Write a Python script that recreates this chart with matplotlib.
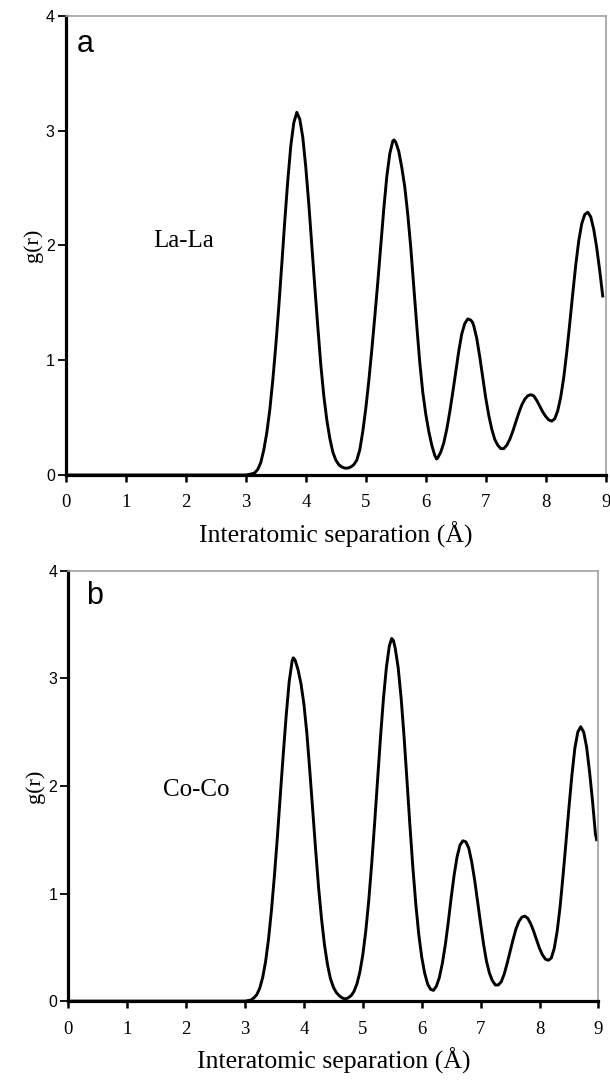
import matplotlib
matplotlib.use("Agg")
import matplotlib.pyplot as plt

# La-La pair distribution
r_lala = [0.0, 3.0, 3.1, 3.15, 3.2, 3.25, 3.3, 3.35, 3.4, 3.45, 3.5, 3.55, 3.6, 3.65, 3.7, 3.75,
          3.8, 3.85, 3.9, 3.95, 4.0, 4.05, 4.1, 4.15, 4.2, 4.25, 4.3, 4.35, 4.4, 4.45, 4.5, 4.55,
          4.6, 4.65, 4.7, 4.75, 4.8, 4.85, 4.9, 4.95, 5.0, 5.05, 5.1, 5.15, 5.2, 5.25, 5.3, 5.35,
          5.4, 5.45, 5.47, 5.5, 5.55, 5.6, 5.65, 5.7, 5.75, 5.8, 5.85, 5.9, 5.95, 6.0, 6.05, 6.1,
          6.15, 6.18, 6.2, 6.25, 6.3, 6.35, 6.4, 6.45, 6.5, 6.55, 6.6, 6.65, 6.7, 6.75, 6.78, 6.8,
          6.85, 6.9, 6.95, 7.0, 7.05, 7.1, 7.15, 7.2, 7.25, 7.3, 7.35, 7.4, 7.45, 7.5, 7.55, 7.6,
          7.65, 7.7, 7.75, 7.8, 7.85, 7.9, 7.95, 8.0, 8.05, 8.1, 8.15, 8.2, 8.25, 8.3, 8.35, 8.4,
          8.45, 8.5, 8.55, 8.6, 8.65, 8.7, 8.75, 8.8, 8.85, 8.9, 8.95]
g_lala = [0.0, 0.0, 0.01, 0.02, 0.05, 0.11, 0.22, 0.37, 0.57, 0.83, 1.13, 1.47, 1.84, 2.22, 2.57, 2.87,
          3.07, 3.16, 3.10, 2.94, 2.68, 2.36, 2.00, 1.64, 1.29, 0.96, 0.69, 0.48, 0.32, 0.20, 0.13, 0.09,
          0.07, 0.06, 0.06, 0.07, 0.09, 0.13, 0.22, 0.38, 0.58, 0.82, 1.09, 1.38, 1.68, 2.00, 2.32, 2.60,
          2.80, 2.91, 2.92, 2.90, 2.82, 2.68, 2.51, 2.27, 1.98, 1.64, 1.30, 0.98, 0.72, 0.53, 0.38, 0.26,
          0.17, 0.14, 0.15, 0.20, 0.28, 0.40, 0.55, 0.72, 0.90, 1.08, 1.23, 1.32, 1.36, 1.35, 1.33, 1.30,
          1.19, 1.03, 0.85, 0.67, 0.52, 0.40, 0.31, 0.26, 0.23, 0.23, 0.26, 0.31, 0.38, 0.46, 0.54, 0.61,
          0.66, 0.69, 0.70, 0.69, 0.65, 0.60, 0.55, 0.51, 0.48, 0.47, 0.49, 0.56, 0.68, 0.85, 1.07, 1.32,
          1.58, 1.83, 2.04, 2.19, 2.27, 2.29, 2.25, 2.14, 1.98, 1.78, 1.56]

# Co-Co pair distribution
r_coco = [0.0, 3.0, 3.1, 3.15, 3.2, 3.25, 3.3, 3.35, 3.4, 3.45, 3.5, 3.55, 3.6, 3.65, 3.7, 3.75,
          3.8, 3.82, 3.85, 3.9, 3.95, 4.0, 4.05, 4.1, 4.15, 4.2, 4.25, 4.3, 4.35, 4.4, 4.45, 4.5,
          4.55, 4.6, 4.65, 4.7, 4.75, 4.8, 4.85, 4.9, 4.95, 5.0, 5.05, 5.1, 5.15, 5.2, 5.25, 5.3,
          5.35, 5.4, 5.45, 5.49, 5.52, 5.55, 5.6, 5.65, 5.7, 5.75, 5.8, 5.85, 5.9, 5.95, 6.0, 6.05,
          6.1, 6.15, 6.2, 6.25, 6.3, 6.35, 6.4, 6.45, 6.5, 6.55, 6.6, 6.65, 6.7, 6.75, 6.8, 6.85,
          6.9, 6.95, 7.0, 7.05, 7.1, 7.15, 7.2, 7.25, 7.3, 7.35, 7.4, 7.45, 7.5, 7.55, 7.6, 7.65,
          7.7, 7.75, 7.8, 7.85, 7.9, 7.95, 8.0, 8.05, 8.1, 8.15, 8.2, 8.25, 8.3, 8.35, 8.4, 8.45,
          8.5, 8.55, 8.6, 8.65, 8.7, 8.75, 8.8, 8.85, 8.9, 8.95, 8.97]
g_coco = [0.0, 0.0, 0.01, 0.03, 0.06, 0.12, 0.22, 0.37, 0.58, 0.85, 1.17, 1.53, 1.92, 2.30, 2.66, 2.97,
          3.16, 3.19, 3.17, 3.08, 2.95, 2.76, 2.49, 2.14, 1.77, 1.40, 1.05, 0.76, 0.52, 0.34, 0.21, 0.13,
          0.08, 0.05, 0.03, 0.02, 0.03, 0.05, 0.09, 0.16, 0.27, 0.43, 0.65, 0.93, 1.27, 1.65, 2.05, 2.45,
          2.81, 3.10, 3.30, 3.37, 3.35, 3.28, 3.10, 2.82, 2.46, 2.05, 1.63, 1.24, 0.90, 0.62, 0.41, 0.26,
          0.16, 0.11, 0.10, 0.14, 0.22, 0.35, 0.52, 0.73, 0.96, 1.17, 1.34, 1.45, 1.49, 1.48, 1.42, 1.29,
          1.12, 0.92, 0.72, 0.53, 0.37, 0.26, 0.19, 0.15, 0.15, 0.18, 0.25, 0.35, 0.46, 0.57, 0.67, 0.74,
          0.78, 0.79, 0.77, 0.72, 0.65, 0.57, 0.49, 0.43, 0.39, 0.38, 0.40, 0.49, 0.65, 0.88, 1.17, 1.48,
          1.80, 2.10, 2.35, 2.50, 2.55, 2.50, 2.36, 2.13, 1.86, 1.55, 1.50]

x_ticks = list(range(10))
y_ticks = [0, 1, 2, 3, 4]

SERIF = ['Liberation Serif', 'DejaVu Serif']
NARROW = ['Liberation Sans Narrow', 'Liberation Sans', 'DejaVu Sans']
SANS = ['Liberation Sans', 'DejaVu Sans']

fig = plt.figure(figsize=(6.10, 10.87), dpi=100)

panels = [
    # rect, r, g, panel letter, letter x, pair label, label position
    ([0.108, 0.563, 0.885, 0.4223], r_lala, g_lala, 'a', 0.02, 'La-La', (0.218, 0.51)),
    ([0.112, 0.079, 0.869, 0.396], r_coco, g_coco, 'b', 0.033, 'Co-Co', (0.242, 0.49)),
]

for rect, r, g, letter, lx, pair, pos in panels:
    ax = fig.add_axes(rect)
    ax.plot(r, g, color='black', lw=2.1, solid_joinstyle='round')
    ax.set_xlim(0, 9)
    ax.set_ylim(0, 4)

    ax.set_xticks(x_ticks)
    ax.set_yticks(y_ticks)
    for lab in ax.get_xticklabels():
        lab.set_family(SERIF)
        lab.set_fontsize(13.5)
    for lab in ax.get_yticklabels():
        lab.set_family(NARROW)
        lab.set_fontsize(11.5)
    ax.tick_params(axis='x', direction='out', length=5, width=1.8, pad=9)
    ax.tick_params(axis='y', direction='out', length=6, width=1.3, pad=2)

    for side in ['left', 'bottom']:
        ax.spines[side].set_linewidth(2.3)
        ax.spines[side].set_color('black')
    for side in ['top', 'right']:
        ax.spines[side].set_linewidth(1.2)
        ax.spines[side].set_color('#a0a0a0')

    ax.set_xlabel('Interatomic separation (Å)', family=SERIF, fontsize=18.5, labelpad=7)
    ax.set_ylabel('g(r)', family=SERIF, fontsize=16, labelpad=2)

    ax.text(lx, 0.922, letter, transform=ax.transAxes, ha='left', va='baseline',
            family=SANS, fontsize=22)
    ax.text(pos[0], pos[1], pair, transform=ax.transAxes, ha='center', va='center',
            family=SERIF, fontsize=18)

fig.savefig('out.png', dpi=100, facecolor='white')
